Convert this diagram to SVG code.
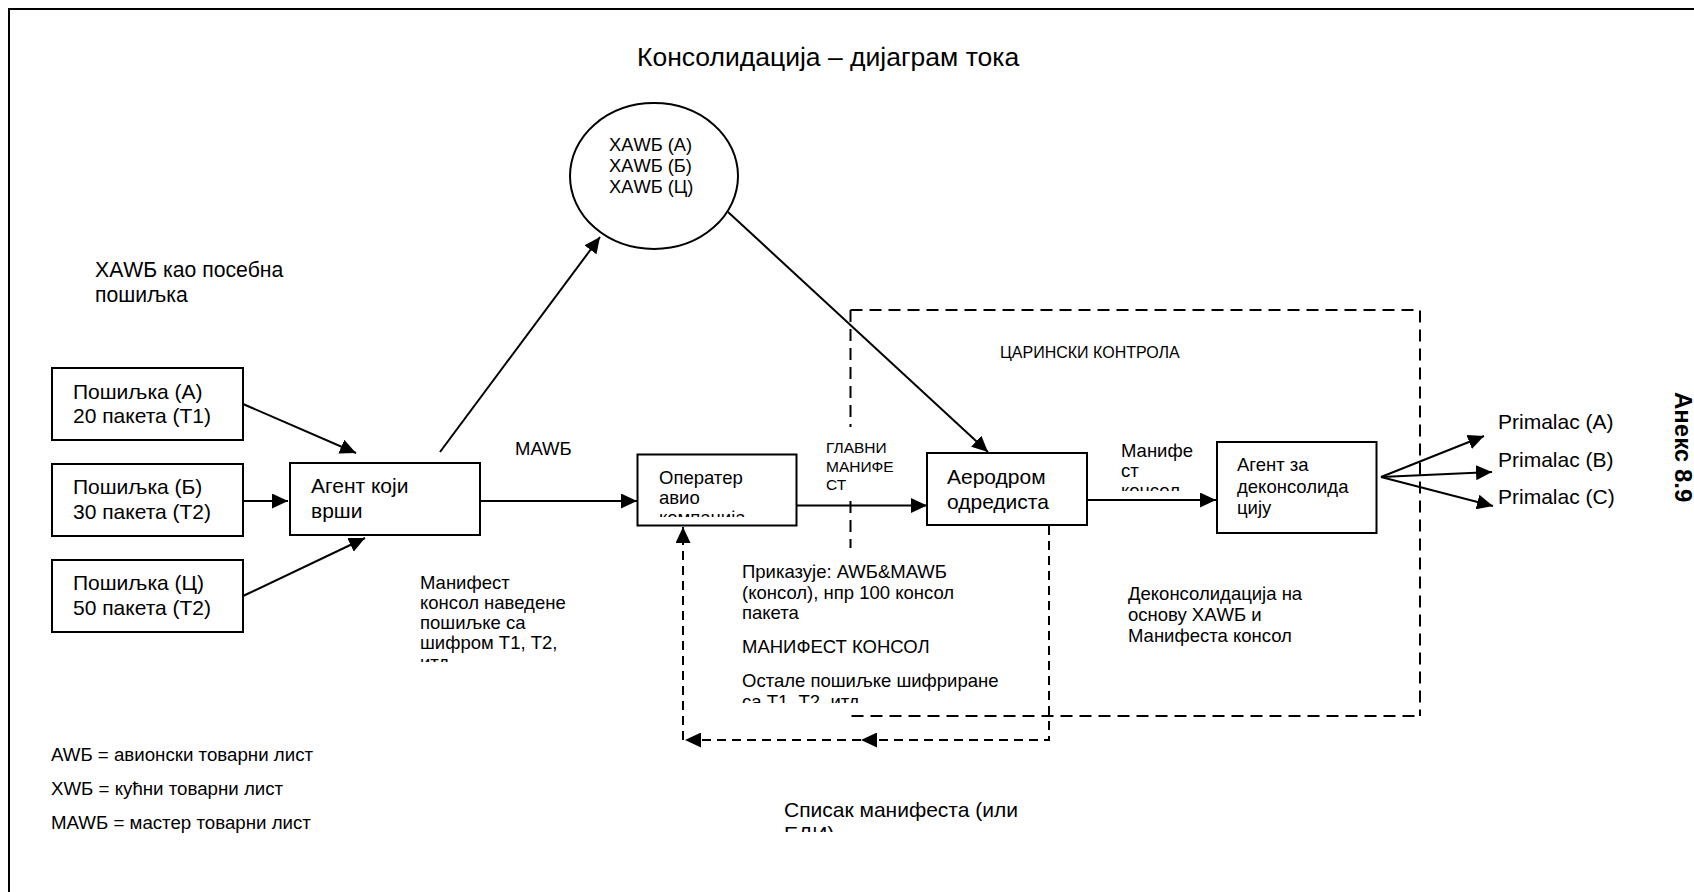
<svg xmlns="http://www.w3.org/2000/svg" width="1694" height="892" viewBox="0 0 1694 892">
<style>
text{font-family:"Liberation Sans",Arial,sans-serif;fill:#000}
.box{fill:#fff;stroke:#000;stroke-width:2}
.ln{fill:none;stroke:#000;stroke-width:2}
.dash{fill:none;stroke:#000;stroke-width:2;stroke-dasharray:12 7}
.fb{fill:none;stroke:#000;stroke-width:2;stroke-dasharray:9 6}
.t21{font-size:21px}
.t18{font-size:18.5px}
.t15{font-size:15.5px}
</style>
<defs>
<marker id="ah" markerWidth="16" markerHeight="15" refX="16" refY="7.5" orient="auto" markerUnits="userSpaceOnUse"><path d="M0,0 L16,7.5 L0,15 z" fill="#000"/></marker>
<clipPath id="c-op"><rect x="640" y="456" width="155" height="61"/></clipPath>
<clipPath id="c-man1"><rect x="410" y="560" width="200" height="102"/></clipPath>
<clipPath id="c-pri"><rect x="735" y="550" width="300" height="153"/></clipPath>
<clipPath id="c-man2"><rect x="1115" y="430" width="90" height="61"/></clipPath>
<clipPath id="c-spi"><rect x="775" y="790" width="300" height="42"/></clipPath>
</defs>

<path d="M9,892 V9 H1694" fill="none" stroke="#000" stroke-width="2"/>

<text x="637" y="66" font-size="26.5px">Консолидација – дијаграм тока</text>

<g id="customs">
<path class="dash" d="M850.5,310 H1420 V716 M851.5,716 H1420 M850.5,310 V427 M850.5,501 V548"/>
<text x="1000" y="358" font-size="16px">ЦАРИНСКИ КОНТРОЛА</text>
</g>

<g id="connectors">
<path class="ln" d="M243,404 L356,453" marker-end="url(#ah)"/>
<path class="ln" d="M243,501 L288,501" marker-end="url(#ah)"/>
<path class="ln" d="M243,596 L365,538" marker-end="url(#ah)"/>
<path class="ln" d="M440,452 L600,237" marker-end="url(#ah)"/>
<path class="ln" d="M480,501 L637,501" marker-end="url(#ah)"/>
<path class="ln" d="M797,505.5 L927,505.5" marker-end="url(#ah)"/>
<path class="ln" d="M728,212 L988,452" marker-end="url(#ah)"/>
<path class="ln" d="M1087,500 L1216,500" marker-end="url(#ah)"/>
<path class="ln" d="M1381,477 L1484,436" marker-end="url(#ah)"/>
<path class="ln" d="M1381,477 L1492,472" marker-end="url(#ah)"/>
<path class="ln" d="M1381,477 L1493,506" marker-end="url(#ah)"/>
<path class="fb" d="M1049,526 V740 H861" marker-end="url(#ah)"/>
<path class="fb" d="M861,740 H685" marker-end="url(#ah)"/>
<path class="fb" d="M683,740 V527" marker-end="url(#ah)"/>
</g>

<g id="hawb">
<ellipse cx="654" cy="176" rx="84" ry="73" fill="#fff" stroke="#000" stroke-width="2"/>
<text font-size="18.3px"><tspan x="609" y="150.5">ХАWБ (А)</tspan><tspan x="609" y="171.5">ХАWБ (Б)</tspan><tspan x="609" y="192.5">ХАWБ (Ц)</tspan></text>
</g>

<g id="hawb-label">
<text font-size="21.2px"><tspan x="95" y="277">ХАWБ као посебна</tspan><tspan x="95" y="301.5">пошиљка</tspan></text>
</g>

<g id="ship-a">
<rect class="box" x="52" y="368" width="191" height="72"/>
<text class="t21"><tspan x="73" y="398.5">Пошиљка (А)</tspan><tspan x="73" y="423">20 пакета (Т1)</tspan></text>
</g>
<g id="ship-b">
<rect class="box" x="52" y="464" width="191" height="72"/>
<text class="t21"><tspan x="73" y="494">Пошиљка (Б)</tspan><tspan x="73" y="519">30 пакета (Т2)</tspan></text>
</g>
<g id="ship-c">
<rect class="box" x="52" y="560" width="191" height="72"/>
<text class="t21"><tspan x="73" y="590">Пошиљка (Ц)</tspan><tspan x="73" y="615">50 пакета (Т2)</tspan></text>
</g>

<g id="agent">
<rect class="box" x="290" y="463" width="190" height="72"/>
<text class="t21"><tspan x="311" y="493">Агент који</tspan><tspan x="311" y="517.5">врши</tspan></text>
</g>

<g id="mawb-label">
<text class="t18" x="515" y="455">MAWБ</text>
</g>

<g id="manifest-note">
<text class="t18" clip-path="url(#c-man1)"><tspan x="420" y="588.5">Манифест</tspan><tspan x="420" y="608.5">консол наведене</tspan><tspan x="420" y="628.5">пошиљке са</tspan><tspan x="420" y="648.5">шифром Т1, Т2,</tspan><tspan x="420" y="668.5">итд</tspan></text>
</g>

<g id="operator">
<rect class="box" x="637.5" y="454.5" width="159" height="71"/>
<text class="t18" clip-path="url(#c-op)"><tspan x="659" y="484">Оператер</tspan><tspan x="659" y="504">авио</tspan><tspan x="659" y="524">компанија</tspan></text>
</g>

<g id="main-manifest-label">
<text class="t15"><tspan x="826" y="453">ГЛАВНИ</tspan><tspan x="826" y="471.5">МАНИФЕ</tspan><tspan x="826" y="489.5">СТ</tspan></text>
</g>

<g id="airport">
<rect class="box" x="927" y="453" width="160" height="72"/>
<text class="t21"><tspan x="947" y="484">Аеродром</tspan><tspan x="947" y="508.5">одредиста</tspan></text>
</g>

<g id="shows-note">
<text class="t18" clip-path="url(#c-pri)"><tspan x="742" y="577.5">Приказује: AWБ&amp;MAWБ</tspan><tspan x="742" y="599">(консол), нпр 100 консол</tspan><tspan x="742" y="619">пакета</tspan><tspan x="742" y="653">МАНИФЕСТ КОНСОЛ</tspan><tspan x="742" y="687">Остале пошиљке шифриране</tspan><tspan x="742" y="707.5">са Т1, Т2, итд</tspan></text>
</g>

<g id="manifest-consol-label">
<text class="t18" clip-path="url(#c-man2)"><tspan x="1121" y="456.5">Манифе</tspan><tspan x="1121" y="476.5">ст</tspan><tspan x="1121" y="496.5">консол</tspan></text>
</g>

<g id="deconsol-agent">
<rect class="box" x="1217" y="442" width="159.5" height="91"/>
<text class="t18"><tspan x="1237" y="471">Агент за</tspan><tspan x="1237" y="492.5">деконсолида</tspan><tspan x="1237" y="514">цију</tspan></text>
</g>

<g id="deconsol-note">
<text class="t18"><tspan x="1128" y="600">Деконсолидација на</tspan><tspan x="1128" y="621">основу ХАWБ и</tspan><tspan x="1128" y="642">Манифеста консол</tspan></text>
</g>

<g id="recipient-a"><text class="t21" x="1498" y="429">Primalac (A)</text></g>
<g id="recipient-b"><text class="t21" x="1498" y="466.5">Primalac (B)</text></g>
<g id="recipient-c"><text class="t21" x="1498" y="504">Primalac (C)</text></g>

<g id="annex">
<text font-size="24px" font-weight="bold" transform="translate(1675,392) rotate(90)">Анекс 8.9</text>
</g>

<g id="legend">
<text font-size="18.7px"><tspan x="51" y="761">AWБ = авионски товарни лист</tspan><tspan x="51" y="795">ХWБ = кућни товарни лист</tspan><tspan x="51" y="829">MAWБ = мастер товарни лист</tspan></text>
</g>

<g id="list-note">
<text class="t21" clip-path="url(#c-spi)"><tspan x="784" y="817">Списак манифеста (или</tspan><tspan x="784" y="841">ЕДИ)</tspan></text>
</g>
</svg>
